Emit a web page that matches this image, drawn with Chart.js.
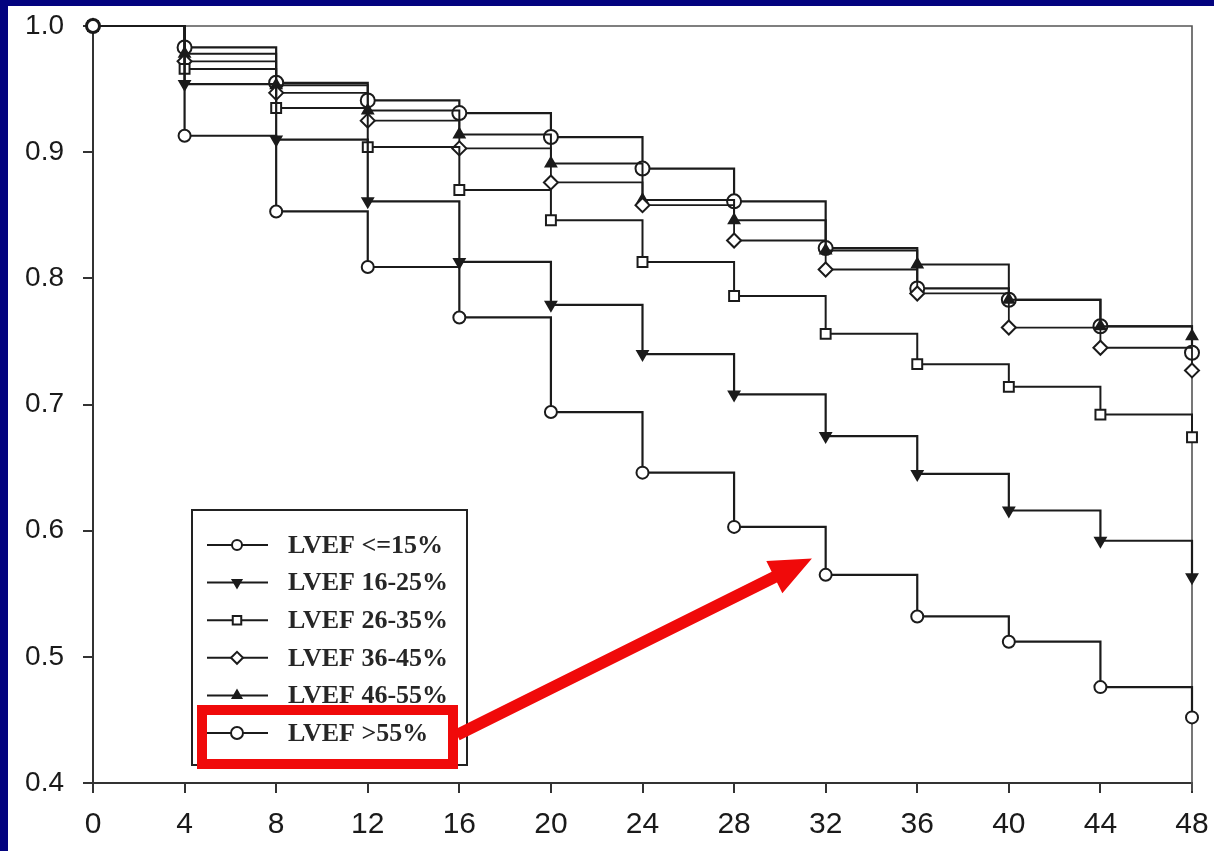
<!DOCTYPE html>
<html>
<head>
<meta charset="utf-8">
<title>Survival by LVEF group</title>
<script src="https://cdn.jsdelivr.net/npm/chart.js@4.4.1/dist/chart.umd.min.js"></script>
<style>
  html, body { margin: 0; padding: 0; background: #03037f; overflow: hidden; }
  #wrap { position: absolute; left: 0; top: 0; width: 1214px; height: 851px; }
</style>
</head>
<body>
<div id="wrap"><canvas id="km" width="1214" height="851"></canvas></div>
<script>
// Follow-up time (months)
const months = [0, 4, 8, 12, 16, 20, 24, 28, 32, 36, 40, 44, 48];

// Cumulative survival per LVEF group
const lvefLe15   = [1.0, 0.913, 0.853, 0.809, 0.769, 0.694, 0.646, 0.603, 0.565, 0.532, 0.512, 0.476, 0.452];
const lvef16to25 = [1.0, 0.954, 0.910, 0.861, 0.813, 0.779, 0.740, 0.708, 0.675, 0.645, 0.616, 0.592, 0.563];
const lvef26to35 = [1.0, 0.966, 0.935, 0.904, 0.870, 0.846, 0.813, 0.786, 0.756, 0.732, 0.714, 0.692, 0.674];
const lvef36to45 = [1.0, 0.972, 0.947, 0.925, 0.903, 0.876, 0.858, 0.830, 0.807, 0.788, 0.761, 0.745, 0.727];
const lvef46to55 = [1.0, 0.978, 0.953, 0.933, 0.914, 0.891, 0.862, 0.846, 0.822, 0.811, 0.783, 0.762, 0.754];
const lvefOver55 = [1.0, 0.983, 0.955, 0.941, 0.931, 0.912, 0.887, 0.861, 0.824, 0.792, 0.783, 0.762, 0.741];

const groupLabels = ['LVEF <=15%', 'LVEF 16-25%', 'LVEF 26-35%', 'LVEF 36-45%', 'LVEF 46-55%', 'LVEF >55%'];

// Axis ticks
const xTicks = [0, 4, 8, 12, 16, 20, 24, 28, 32, 36, 40, 44, 48];
const yTicks = [0.4, 0.5, 0.6, 0.7, 0.8, 0.9, 1.0];

// Highlighted group and the spot the call-out arrow points at
const highlightIndex = 5;
const arrowTarget = { x: 31.4, y: 0.578 };

const ink = '#1b1b1b';
const markerStyles = [
  { pointStyle: 'circle',   rotation: 0,   radius: 6, fill: '#ffffff', width: 2.0 },
  { pointStyle: 'triangle', rotation: 180, radius: 6, fill: ink,       width: 2.0 },
  { pointStyle: 'rect',     rotation: 0,   radius: 7, fill: '#ffffff', width: 2.0 },
  { pointStyle: 'rectRot',  rotation: 0,   radius: 7, fill: '#ffffff', width: 2.0 },
  { pointStyle: 'triangle', rotation: 0,   radius: 6, fill: ink,       width: 2.0 },
  { pointStyle: 'circle',   rotation: 0,   radius: 7, fill: '#ffffff', width: 2.0 }
];
const lineWidths = [2.2, 2.2, 2.0, 1.8, 2.0, 2.2];

const seriesValues = [lvefLe15, lvef16to25, lvef26to35, lvef36to45, lvef46to55, lvefOver55];

const datasets = seriesValues.map((vals, i) => ({
  label: groupLabels[i],
  data: months.map((m, k) => ({ x: m, y: vals[k] })),
  stepped: 'before',
  borderColor: ink,
  borderWidth: lineWidths[i],
  pointStyle: markerStyles[i].pointStyle,
  rotation: markerStyles[i].rotation,
  pointRadius: markerStyles[i].radius,
  pointBackgroundColor: markerStyles[i].fill,
  pointBorderColor: ink,
  pointBorderWidth: markerStyles[i].width,
  fill: false,
  clip: false
}));

// Navy frame with white page
const pagePlugin = {
  id: 'page',
  beforeDraw(chart) {
    const ctx = chart.ctx;
    ctx.save();
    ctx.fillStyle = '#03037f';
    ctx.fillRect(0, 0, chart.width, chart.height);
    ctx.fillStyle = '#ffffff';
    ctx.fillRect(8, 6, chart.width - 8, chart.height - 6);
    ctx.restore();
  },
  beforeDatasetsDraw(chart) {
    // top and right edges of the plot box
    const { ctx, chartArea: a } = chart;
    ctx.save();
    ctx.strokeStyle = '#555555';
    ctx.lineWidth = 1.6;
    ctx.beginPath();
    ctx.moveTo(a.left, a.top);
    ctx.lineTo(a.right, a.top);
    ctx.lineTo(a.right, a.bottom + 8);
    ctx.stroke();
    ctx.restore();
  }
};

// Legend box with line + marker samples, highlight box and arrow
const legendPlugin = {
  id: 'kmLegend',
  afterDraw(chart) {
    const { ctx, chartArea: a, scales } = chart;
    const boxL = a.left + 99, boxT = a.top + 484, boxW = 275, boxH = 255;
    const rowY0 = boxT + 35, rowGap = 37.6;
    ctx.save();
    ctx.fillStyle = '#ffffff';
    ctx.fillRect(boxL, boxT, boxW, boxH);
    ctx.strokeStyle = '#222222';
    ctx.lineWidth = 2;
    ctx.strokeRect(boxL, boxT, boxW, boxH);

    ctx.font = 'bold 26px "Liberation Serif", "Times New Roman", serif';
    ctx.textBaseline = 'middle';
    ctx.textAlign = 'left';
    groupLabels.forEach((lab, i) => {
      const y = rowY0 + i * rowGap;
      ctx.strokeStyle = ink;
      ctx.lineWidth = 2;
      ctx.beginPath();
      ctx.moveTo(boxL + 15, y);
      ctx.lineTo(boxL + 76, y);
      ctx.stroke();
      const m = markerStyles[i];
      ctx.fillStyle = m.fill;
      ctx.strokeStyle = ink;
      ctx.lineWidth = m.width;
      Chart.helpers.drawPoint(ctx, {
        pointStyle: m.pointStyle, rotation: m.rotation,
        radius: m.radius - 1, borderWidth: m.width
      }, boxL + 45, y);
      ctx.fillStyle = '#262626';
      ctx.fillText(lab, boxL + 96, y + 1);
    });

    // red highlight around the chosen legend row
    const hy = rowY0 + highlightIndex * rowGap;
    const hl = { x: boxL + 10, y: hy - 23, w: 251, h: 54 };
    ctx.strokeStyle = '#f00a0a';
    ctx.lineWidth = 10;
    ctx.strokeRect(hl.x, hl.y, hl.w, hl.h);

    // arrow from the highlight box to the curve
    const sx = hl.x + hl.w + 4, sy = hy + 2;
    const tx = scales.x.getPixelForValue(arrowTarget.x);
    const ty = scales.y.getPixelForValue(arrowTarget.y);
    const dx = tx - sx, dy = ty - sy, len = Math.hypot(dx, dy);
    const ux = dx / len, uy = dy / len, nx = -uy, ny = ux;
    const headLen = 42, headHalf = 18, shaftHalf = 6;
    const bx = tx - ux * headLen, by = ty - uy * headLen;
    ctx.fillStyle = '#f00a0a';
    ctx.beginPath();
    ctx.moveTo(sx + nx * shaftHalf, sy + ny * shaftHalf);
    ctx.lineTo(bx + nx * shaftHalf, by + ny * shaftHalf);
    ctx.lineTo(bx + nx * headHalf, by + ny * headHalf);
    ctx.lineTo(tx, ty);
    ctx.lineTo(bx - nx * headHalf, by - ny * headHalf);
    ctx.lineTo(bx - nx * shaftHalf, by - ny * shaftHalf);
    ctx.lineTo(sx - nx * shaftHalf, sy - ny * shaftHalf);
    ctx.closePath();
    ctx.fill();
    ctx.restore();
  }
};

new Chart(document.getElementById('km'), {
  type: 'line',
  data: { datasets },
  plugins: [pagePlugin, legendPlugin],
  options: {
    responsive: false,
    animation: false,
    events: [],
    layout: { padding: { left: 0, top: 26, right: 22, bottom: 0 } },
    plugins: { legend: { display: false }, tooltip: { enabled: false } },
    scales: {
      x: {
        type: 'linear',
        min: 0, max: 48,
        afterBuildTicks(scale) { scale.ticks = xTicks.map(v => ({ value: v })); },
        afterFit(scale) {
          scale.height = 68;
          scale.paddingLeft = 0;
          scale.paddingRight = 0;
        },
        border: { display: true, color: '#333333', width: 2 },
        grid: { drawOnChartArea: false, drawTicks: true, tickLength: 10, color: '#333333', lineWidth: 2 },
        ticks: {
          color: '#1a1a1a',
          padding: 14,
          maxRotation: 0,
          autoSkip: false,
          font: { family: '"Liberation Sans", Arial, sans-serif', size: 30 },
          callback: v => String(v)
        }
      },
      y: {
        type: 'linear',
        min: 0.4, max: 1.0,
        afterBuildTicks(scale) { scale.ticks = yTicks.map(v => ({ value: v })); },
        afterFit(scale) {
          scale.width = 93;
          scale.paddingTop = 0;
          scale.paddingBottom = 0;
        },
        border: { display: true, color: '#333333', width: 2 },
        grid: { drawOnChartArea: false, drawTicks: true, tickLength: 10, color: '#333333', lineWidth: 2 },
        ticks: {
          color: '#1a1a1a',
          padding: 19,
          autoSkip: false,
          font: { family: '"Liberation Sans", Arial, sans-serif', size: 28 },
          callback: v => Number(v).toFixed(1)
        }
      }
    }
  }
});
</script>
</body>
</html>
